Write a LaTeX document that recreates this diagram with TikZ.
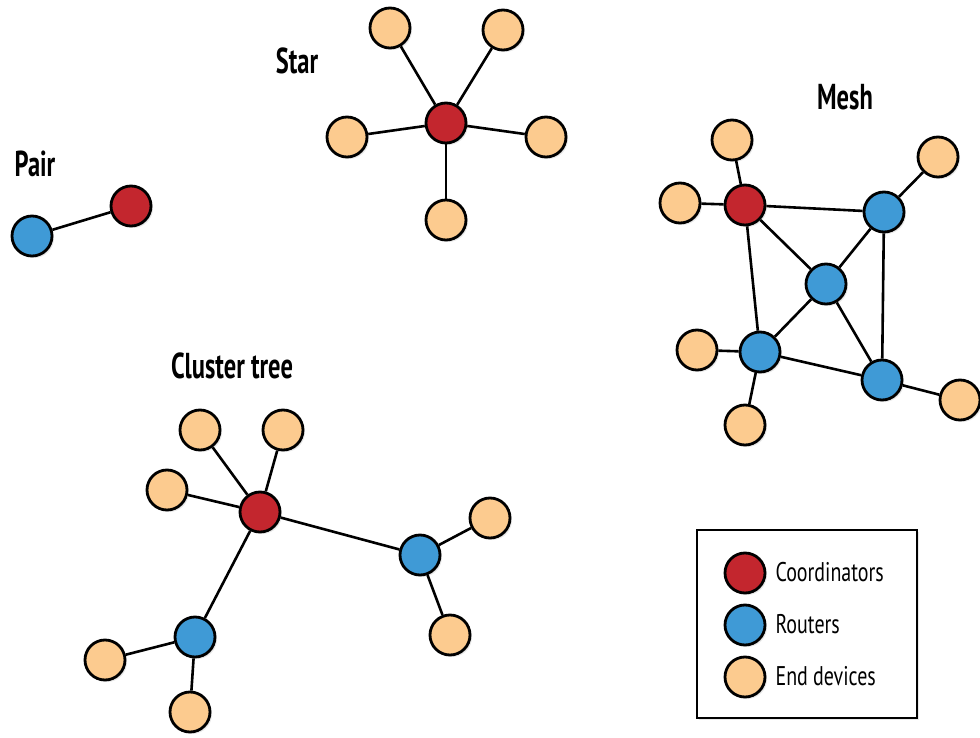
\documentclass[tikz,border=0pt]{standalone}
\usepackage{fontspec}
\setmainfont{PT Sans}
\newfontfamily\ttlfont{PT Sans}[FakeStretch=0.68]
\newfontfamily\lgdfont{PT Sans}[FakeStretch=0.74]
\usetikzlibrary{shadows}
\definecolor{coord}{HTML}{C3262E}
\definecolor{router}{HTML}{3F9AD6}
\definecolor{enddev}{HTML}{FCCB8F}
\begin{document}
\begin{tikzpicture}[x=1pt,y=-1pt,
 dev/.style={circle, draw=black, line width=2.8pt, minimum size=40pt, inner sep=0pt,
   drop shadow={opacity=0.18, shadow xshift=2pt, shadow yshift=-2pt}},
 co/.style={dev, fill=coord}, ro/.style={dev, fill=router}, ed/.style={dev, fill=enddev},
 link/.style={line width=2.6pt, draw=black},
 ttl/.style={font=\ttlfont\fontsize{36}{40}\selectfont\bfseries},
 lgd/.style={font=\lgdfont\fontsize{27}{30}\selectfont, anchor=west}]
\useasboundingbox[fill=white] (0,0) rectangle (980,738);

% Pair
\node[ttl] (tpair) at (35,164) {Pair};
\node[ro] (pb) at (32,236) {};
\node[co] (pr) at (131,206) {};
\draw[link] (pb) -- (pr);

% Star
\node[ttl] (tstar) at (297,61) {Star};
\node[co] (sc) at (446,123) {};
\node[ed] (s1) at (390,28) {};
\node[ed] (s2) at (503,30) {};
\node[ed] (s3) at (347,137) {};
\node[ed] (s4) at (546,137) {};
\node[ed] (s5) at (446,220) {};
\foreach \n in {s1,s2,s3,s4,s5} \draw[link] (sc) -- (\n);

% Mesh
\node[ttl] (tmesh) at (845,97) {Mesh};
\node[co] (mr) at (745,205) {};
\node[ro] (mtr) at (884,212) {};
\node[ro] (mc) at (826,284) {};
\node[ro] (mbl) at (760,352) {};
\node[ro] (mbr) at (882,380) {};
\node[ed] (me1) at (732,140) {};
\node[ed] (me2) at (680,203) {};
\node[ed] (me3) at (938,157) {};
\node[ed] (me4) at (697,350) {};
\node[ed] (me5) at (745,425) {};
\node[ed] (me6) at (960,400) {};
\draw[link] (mr) -- (mtr);
\draw[link] (mr) -- (mc);
\draw[link] (mr) -- (mbl);
\draw[link] (mtr) -- (mc);
\draw[link] (mtr) -- (mbr);
\draw[link] (mc) -- (mbl);
\draw[link] (mc) -- (mbr);
\draw[link] (mbl) -- (mbr);
\draw[link] (mr) -- (me1);
\draw[link] (mr) -- (me2);
\draw[link] (mtr) -- (me3);
\draw[link] (mbl) -- (me4);
\draw[link] (mbl) -- (me5);
\draw[link] (mbr) -- (me6);

% Cluster tree
\node[ttl] (tclu) at (232,366) {Cluster tree};
\node[co] (cr) at (260,512) {};
\node[ed] (c1) at (200,430) {};
\node[ed] (c2) at (283,430) {};
\node[ed] (c3) at (167,490) {};
\node[ro] (cb1) at (420,555) {};
\node[ed] (c4) at (490,518) {};
\node[ed] (c5) at (450,635) {};
\node[ro] (cb2) at (195,637) {};
\node[ed] (c6) at (105,660) {};
\node[ed] (c7) at (190,712) {};
\draw[link] (cr) -- (c1);
\draw[link] (cr) -- (c2);
\draw[link] (cr) -- (c3);
\draw[link] (cr) -- (cb1);
\draw[link] (cr) -- (cb2);
\draw[link] (cb1) -- (c4);
\draw[link] (cb1) -- (c5);
\draw[link] (cb2) -- (c6);
\draw[link] (cb2) -- (c7);

% Legend
\node[draw=black, line width=2.4pt, minimum width=220pt, minimum height=188pt, inner sep=0pt,
  drop shadow={opacity=0.18, shadow xshift=2pt, shadow yshift=-2pt}, fill=white] (lbox) at (807,624) {};
\node[co] (lc) at (745,573) {};
\node[ro] (lr) at (745,625) {};
\node[ed] (le) at (745,677) {};
\node[lgd] (tc) at (772,572) {Coordinators};
\node[lgd] (tr) at (772,624) {Routers};
\node[lgd] (te) at (772,676) {End devices};
\end{tikzpicture}
\end{document}
